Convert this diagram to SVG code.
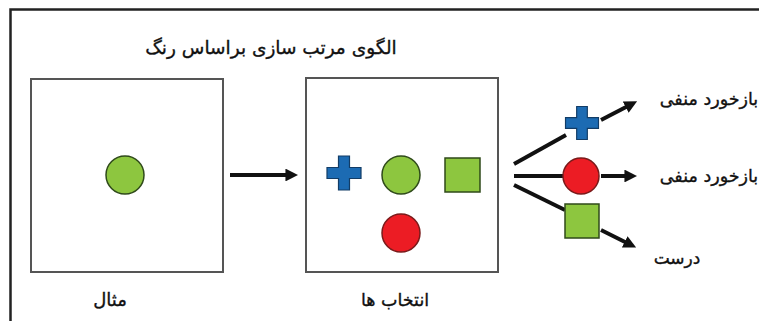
<svg xmlns="http://www.w3.org/2000/svg" width="759" height="321" viewBox="0 0 759 321">
<defs>
<style>
.frame{fill:none;stroke:#222;stroke-width:2.5}
.box{fill:#fff;stroke:#555;stroke-width:2}
.green{fill:#8dc63f;stroke:#2f4a1a;stroke-width:1.5}
.red{fill:#ec1c24;stroke:#7a1a1a;stroke-width:1.5}
.blue{fill:#1c6bb3;stroke:#123c66;stroke-width:1.2}
.conn{fill:none;stroke:#111;stroke-width:4}
.lbl{font-family:"DejaVu Sans",sans-serif;fill:#111;stroke:#111;stroke-width:0.35;text-anchor:middle}
</style>
<marker id="ah" viewBox="0 0 10 10" refX="2" refY="5" markerWidth="3.2" markerHeight="3.2" orient="auto" markerUnits="strokeWidth">
<path d="M0,0 L10,5 L0,10 z" fill="#111"/>
</marker>
<path id="crossShape" d="M-5.5,-17 H5.5 V-5.5 H17 V5.5 H5.5 V17 H-5.5 V5.5 H-17 V-5.5 H-5.5 Z"/>
</defs>
<rect width="759" height="321" fill="#fff"/>
<path class="frame" d="M10.5,321 V9.5 H759"/>
<text class="lbl" x="271" y="54" font-size="18.5">الگوی مرتب سازی براساس رنگ</text>

<g id="example">
<rect class="box" x="31" y="79" width="192" height="193"/>
<circle class="green" cx="125" cy="175" r="19"/>
<text class="lbl" x="110" y="306" font-size="18">مثال</text>
</g>

<g id="selections">
<rect class="box" x="306" y="78" width="192" height="194"/>
<use href="#crossShape" class="blue" transform="translate(344,173)"/>
<circle class="green" cx="401" cy="175" r="19"/>
<rect class="green" x="445" y="158" width="35" height="34"/>
<circle class="red" cx="401" cy="233" r="19"/>
<text class="lbl" x="395" y="306" font-size="17.5">انتخاب ها</text>
</g>

<g id="connectors">
<line class="conn" x1="230" y1="175" x2="288" y2="175" marker-end="url(#ah)"/>
<line class="conn" x1="514" y1="164" x2="566" y2="135"/>
<line class="conn" x1="514" y1="176" x2="563" y2="176"/>
<line class="conn" x1="514" y1="185" x2="565" y2="210"/>
<line class="conn" x1="601" y1="120" x2="628" y2="106" marker-end="url(#ah)"/>
<line class="conn" x1="601" y1="176" x2="627" y2="176" marker-end="url(#ah)"/>
<line class="conn" x1="601" y1="230" x2="627" y2="243" marker-end="url(#ah)"/>
</g>

<g id="outcome-cross">
<use href="#crossShape" class="blue" transform="translate(582,123) scale(0.97)"/>
<text class="lbl" x="709" y="105" font-size="17.5">بازخورد منفی</text>
</g>
<g id="outcome-red">
<circle class="red" cx="581" cy="176" r="18"/>
<text class="lbl" x="709" y="182" font-size="17.5">بازخورد منفی</text>
</g>
<g id="outcome-green">
<rect class="green" x="565" y="204" width="34" height="34"/>
<text class="lbl" x="677" y="264" font-size="17">درست</text>
</g>
</svg>
